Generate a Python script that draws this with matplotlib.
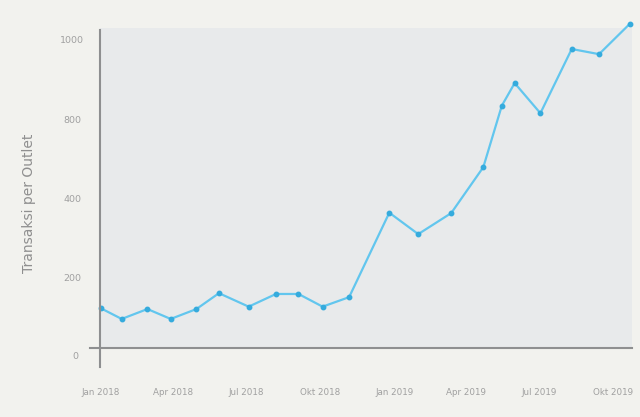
import pandas as pd
import numpy as np
import matplotlib
matplotlib.use('Agg')
import matplotlib.pyplot as plt
import matplotlib.dates as mdates
import matplotlib.transforms as mtransforms

# data (y in axis-position units)
dates = ['2018-01-01', '2018-01-27', '2018-02-28', '2018-03-29', '2018-04-30',
         '2018-05-28', '2018-07-04', '2018-08-07', '2018-09-04', '2018-10-04',
         '2018-11-06', '2018-12-26', '2019-01-31', '2019-03-13', '2019-04-22',
         '2019-05-15', '2019-05-31', '2019-07-02', '2019-08-10', '2019-09-13',
         '2019-10-21']
transaksi = [123, 96, 121, 96, 121, 161, 127, 159, 159, 127,
             151, 364, 310, 363, 479, 634, 691, 615, 777, 764, 840]

ytick_pos = [200, 400, 600, 800]
ytick_labels = ['200', '400', '800', '1000']
xtick_dates = ['2018-01-01', '2018-04-01', '2018-07-01', '2018-10-01',
               '2019-01-01', '2019-04-01', '2019-07-01', '2019-10-01']
xtick_labels = ['Jan 2018', 'Apr 2018', 'Jul 2018', 'Okt 2018',
                'Jan 2019', 'Apr 2019', 'Jul 2019', 'Okt 2019']

plt.rcParams['font.family'] = ['DejaVu Sans']

x = pd.to_datetime(dates)

fig = plt.figure(figsize=(6.4, 4.17), dpi=100, facecolor='#f2f2ee')
ax = fig.add_axes([100 / 640, 69 / 417, 532 / 640, 320 / 417])
ax.set_facecolor('#e8eaeb')

ax.plot(x, transaksi, '-', color='#62c6ee', lw=1.6, clip_on=False, zorder=3)
ax.plot(x, transaksi, 'o', color='#35abdd', ms=3.2, clip_on=False, zorder=4)

ax.set_xlim(pd.Timestamp('2017-12-31'), pd.Timestamp('2019-10-24'))
ax.set_ylim(22.7, 830)

for s in ax.spines.values():
    s.set_visible(False)

# cross-shaped axis lines
ax.plot([0, 0], [-0.059, 0.994], transform=ax.transAxes, color='#8e8f90',
        lw=1.5, clip_on=False, zorder=5)
ax.plot([-0.019, 1.0], [0, 0], transform=ax.transAxes, color='#8e8f90',
        lw=1.5, clip_on=False, zorder=5)

ax.set_yticks(ytick_pos)
ax.set_yticklabels(ytick_labels)
for lab in ax.get_yticklabels():
    lab.set_horizontalalignment('center')
ax.tick_params(axis='y', length=0, pad=20, labelsize=6.8, labelcolor='#a0a0a0')

# zero label sits below the drawn axis line
trans = mtransforms.blended_transform_factory(ax.transAxes, ax.transData)
ax.text(-25 / 532, 0, '0', transform=trans, ha='center', va='center',
        fontsize=6.8, color='#a0a0a0', clip_on=False)

ax.set_xticks(pd.to_datetime(xtick_dates))
ax.set_xticklabels(xtick_labels)
ax.tick_params(axis='x', length=0, pad=29, labelsize=6.3, labelcolor='#a0a0a0')

ax.set_ylabel('Transaksi per Outlet', fontsize=10, color='#8f8f8f')
ax.yaxis.set_label_coords(-64 / 532, 0.453)

fig.savefig('out.png', dpi=100, facecolor=fig.get_facecolor())
